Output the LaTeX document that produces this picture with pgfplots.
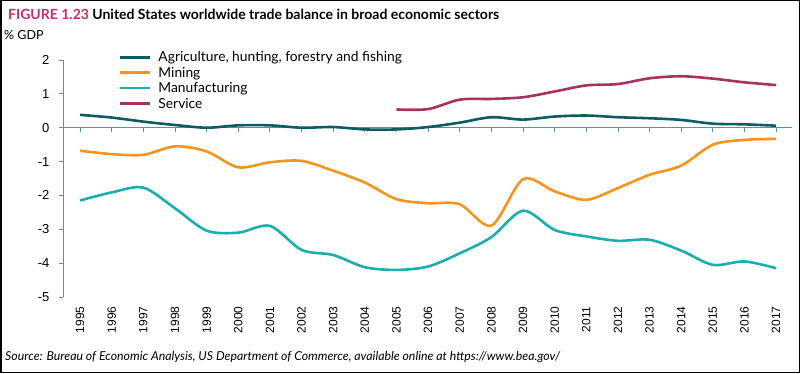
\documentclass[border=0pt]{standalone}
\usepackage{pgfplots}
\pgfplotsset{compat=1.18}
\usepackage{fontspec}
\setmainfont{Lato}
\newfontfamily\tickfont{Liberation Sans}
\definecolor{agri}{HTML}{0E5C63}
\definecolor{mining}{HTML}{F7941E}
\definecolor{manu}{HTML}{1BAEB0}
\definecolor{serv}{HTML}{A8325E}
\definecolor{figc}{HTML}{C42E6B}
\definecolor{axisc}{HTML}{4E9A9E}
\begin{document}
\begin{tikzpicture}
\useasboundingbox (0pt,0pt) rectangle (800pt,373pt);
\draw[line width=1.5pt] (0.75pt,0.75pt) rectangle (799.25pt,372.25pt);
\node[anchor=base west,inner sep=0pt] at (8pt,353pt) {\fontsize{14}{16}\selectfont\bfseries\textcolor{figc}{FIGURE 1.23} United States worldwide trade balance in broad economic sectors};
\node[anchor=base west,inner sep=0pt] at (4pt,333pt) {\fontsize{12.5}{14}\selectfont \% GDP};
\node[anchor=base west,inner sep=0pt] at (5pt,13pt) {\fontsize{12.3}{14}\selectfont\itshape Source: Bureau of Economic Analysis, US Department of Commerce, available online at https://www.bea.gov/};
\begin{axis}[
  at={(63pt,76pt)}, anchor=south west,
  scale only axis, width=729pt, height=237pt,
  xmin=1994.46, xmax=2017.5, ymin=-5, ymax=2,
  axis y line=left, axis x line=bottom,
  x axis line style={draw=none},
  y axis line style={axisc, line width=0.9pt, -},
  xtick={1995,...,2017},
  major x tick style={draw=none},
  xticklabel style={rotate=90, anchor=east, font=\tickfont\fontsize{12}{14}\selectfont},
  x tick label style={/pgf/number format/1000 sep={}},
  xticklabel shift=2pt,
  ytick={-5,...,2},
  yticklabel style={font=\tickfont\fontsize{13}{14}\selectfont},
  yticklabel shift=6pt,
  ytick style={axisc, line width=0.9pt},
  tick align=outside, major tick length=4pt,
  /pgf/number format/assume math mode=true,
  legend style={draw=none, fill=none, at={(0.072,1.05)}, anchor=north west,
    font=\fontsize{13.8}{15}\selectfont, row sep=1.7pt,
    nodes={inner sep=1.2pt, text depth=0.25ex}},
  legend cell align=left,
  legend image code/.code={\draw[#1, line width=2.6pt] (0pt,0pt) -- (30pt,0pt);},
  clip=false,
]
\draw[axisc, line width=0.9pt] (axis cs:1994.46,0) -- (axis cs:2017.5,0);
\pgfplotsinvokeforeach{1995,...,2017}{
  \draw[axisc, line width=0.9pt] (axis cs:#1,0) -- ++(0pt,-4pt);
}
\addplot[agri, line width=2.6pt, smooth] coordinates {
(1995,0.38) (1996,0.30) (1997,0.18) (1998,0.08) (1999,0.00) (2000,0.07) (2001,0.07) (2002,0.00) (2003,0.02) (2004,-0.05) (2005,-0.05) (2006,0.02) (2007,0.15) (2008,0.31) (2009,0.24) (2010,0.33) (2011,0.36) (2012,0.31) (2013,0.28) (2014,0.23) (2015,0.12) (2016,0.10) (2017,0.06)};
\addlegendentry{\hspace{6pt}Agriculture, hunting, forestry and fishing}
\addplot[mining, line width=2.6pt, smooth] coordinates {
(1995,-0.68) (1996,-0.78) (1997,-0.80) (1998,-0.55) (1999,-0.70) (2000,-1.17) (2001,-1.02) (2002,-0.98) (2003,-1.27) (2004,-1.62) (2005,-2.11) (2006,-2.23) (2007,-2.26) (2008,-2.89) (2009,-1.52) (2010,-1.88) (2011,-2.13) (2012,-1.78) (2013,-1.39) (2014,-1.12) (2015,-0.50) (2016,-0.36) (2017,-0.33)};
\addlegendentry{\hspace{6pt}Mining}
\addplot[manu, line width=2.6pt, smooth] coordinates {
(1995,-2.15) (1996,-1.91) (1997,-1.77) (1998,-2.38) (1999,-3.04) (2000,-3.10) (2001,-2.90) (2002,-3.61) (2003,-3.76) (2004,-4.12) (2005,-4.20) (2006,-4.10) (2007,-3.71) (2008,-3.23) (2009,-2.45) (2010,-3.02) (2011,-3.21) (2012,-3.34) (2013,-3.31) (2014,-3.63) (2015,-4.05) (2016,-3.95) (2017,-4.15)};
\addlegendentry{\hspace{6pt}Manufacturing}
\addplot[serv, line width=2.6pt, smooth] coordinates {
(2005,0.54) (2006,0.55) (2007,0.83) (2008,0.85) (2009,0.90) (2010,1.07) (2011,1.25) (2012,1.29) (2013,1.46) (2014,1.52) (2015,1.45) (2016,1.34) (2017,1.26)};
\addlegendentry{\hspace{6pt}Service}
\end{axis}
\end{tikzpicture}
\end{document}
